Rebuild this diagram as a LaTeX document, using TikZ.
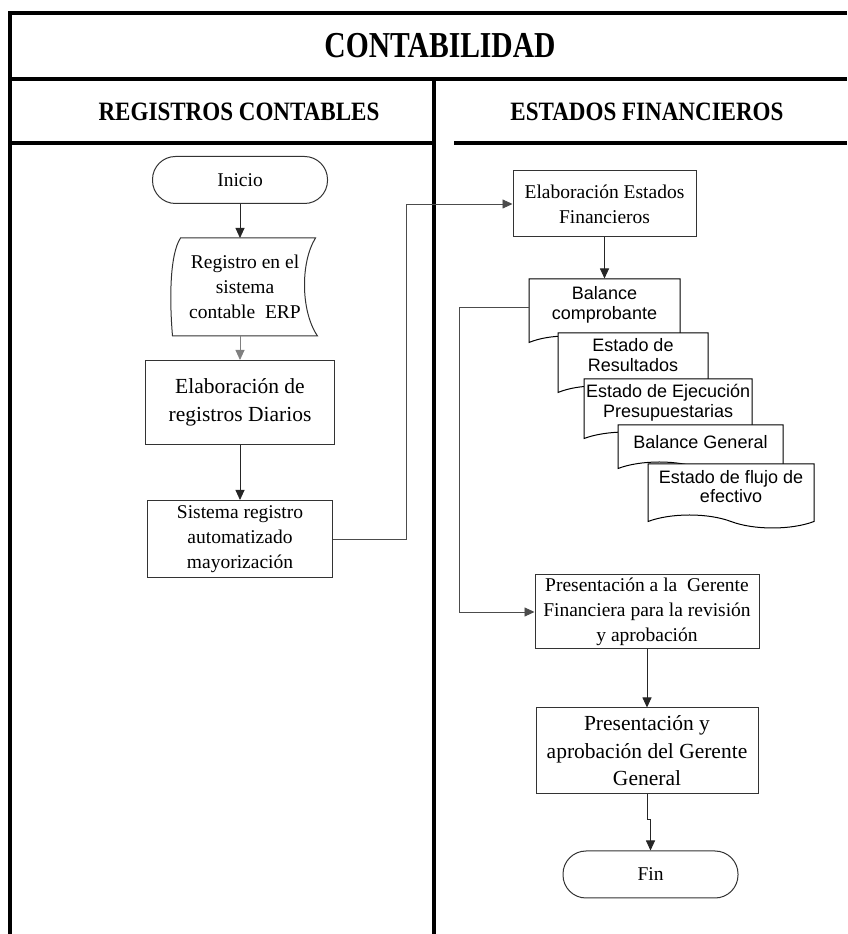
\documentclass[tikz,border=0pt]{standalone}
\usepackage{fontspec}
\setmainfont{Liberation Serif}
\newfontfamily\docfont{Liberation Sans}
\newfontfamily\lanefont{Liberation Serif}[FakeStretch=0.87]
\newfontfamily\titlefont{Liberation Serif}[FakeStretch=0.81]
\usetikzlibrary{positioning,arrows.meta,shapes.symbols}

\begin{document}
\begin{tikzpicture}[x=1pt, y=1pt,
  lane/.style={line width=4pt, black},
  lanetitle/.style={font=\titlefont\bfseries\fontsize{36.5}{42}\selectfont},
  lanehead/.style={font=\lanefont\bfseries\fontsize{26.5}{30}\selectfont},
  boxline/.style={draw=black!80, line width=1pt},
  box/.style={boxline, fill=white, align=center, inner sep=2pt, font=\fontsize{19.5}{25}\selectfont},
  bigbox/.style={box, font=\fontsize{21.5}{27.5}\selectfont},
  term/.style={box, rounded corners=23pt, minimum width=175pt, minimum height=47pt},
  doc/.style={tape, tape bend top=none, tape bend bottom=out and in, tape bend height=13pt, draw=black, line width=1pt, fill=white, align=center, inner sep=2pt, text depth=9pt, font=\docfont\fontsize{18}{19.5}\selectfont},
  link/.style={draw=black!70, line width=0.9pt},
  >={Triangle[length=10pt, width=9pt]}]
\useasboundingbox (0,0) rectangle (847,934);

% swimlane frame
\draw[lane] (10,0) -- (10,921) -- (847,921);
\draw[lane] (10,855) -- (847,855);
\draw[lane] (434,855) -- (434,0);
\draw[lane] (10,791) -- (434,791);
\draw[lane] (454,791) -- (847,791);
\node[lanetitle] (conta) at (440,888) {CONTABILIDAD};
\node[lanehead] (regcont) at (239,822) {REGISTROS CONTABLES};
\node[lanehead] (estfin) at (647,822) {ESTADOS FINANCIEROS};

% left lane
\node[term] (inicio) at (240,754) {Inicio};
\node[box, draw=none, fill=none, minimum width=144pt, minimum height=97pt, below=34pt of inicio, xshift=5pt] (erp) {Registro en el\\sistema\\contable\ \ ERP};
\draw[boxline] ([xshift=8pt]erp.north west) -- ([xshift=-2pt]erp.north east)
  .. controls +(-15,-24) and +(-17,25) .. (erp.south east)
  -- (erp.south west)
  .. controls +(-3,35) and +(-11,-17) .. ([xshift=8pt]erp.north west) -- cycle;
\node[bigbox, minimum width=189pt, minimum height=84pt, below=24pt of erp, xshift=-5pt] (diarios) {Elaboración de\\registros Diarios};
\node[box, minimum width=185pt, minimum height=77pt, below=55pt of diarios] (sistema) {Sistema registro\\automatizado\\mayorización};

% right lane
\node[box, minimum width=183pt, minimum height=66pt] (eef) at (604.5,730) {Elaboración Estados\\Financieros};
\node[doc, minimum width=151pt, minimum height=70pt, below=41pt of eef] (balcomp) {Balance\\comprobante};
\node[doc, anchor=north west, minimum width=150pt, minimum height=66pt] (resul) at ([shift={(29,-54)}]balcomp.north west) {Estado de\\Resultados};
\node[doc, anchor=north west, minimum width=167pt, minimum height=66pt] (ejec) at ([shift={(26,-46)}]resul.north west) {Estado de Ejecución\\Presupuestarias};
\node[doc, anchor=north west, minimum width=165pt, minimum height=50pt, text depth=4pt] (bgen) at ([shift={(34,-46)}]ejec.north west) {Balance General};
\node[doc, anchor=north west, minimum width=166pt, minimum height=64pt, text depth=6pt] (flujo) at ([shift={(30,-39)}]bgen.north west) {Estado de flujo de\\efectivo};
\node[box, minimum width=224pt, minimum height=74pt] (presgf) at (647,322) {Presentación a la\ \ Gerente\\Financiera para la revisión\\y aprobación};
\node[bigbox, minimum width=222pt, minimum height=86pt, below=58pt of presgf] (presgg) {Presentación y\\aprobación del Gerente\\General};
\node[term, below=56pt of presgg, xshift=3.5pt] (fin) {Fin};

% connectors
\draw[->, black!85, line width=0.9pt] (inicio.south) -- (inicio.south |- erp.north);
\draw[->, black!50, line width=0.9pt] (diarios.north |- erp.south) -- (diarios.north);
\draw[->, black!85, line width=0.9pt] (diarios) -- (sistema);
\draw[link, ->] (sistema.east) -- ++(73,0) |- (eef.west);
\draw[->, black!85, line width=0.9pt] (eef.south) -- (eef.south |- balcomp.north);
\draw[link, ->] (balcomp.west) -- ++(-69,0) |- (presgf.west);
\draw[->, black!85, line width=0.9pt] (presgf) -- (presgg);
\draw[->, black!85, line width=0.9pt] (presgg.south) -- ++(0,-25) -| (fin.north);
\end{tikzpicture}
\end{document}
